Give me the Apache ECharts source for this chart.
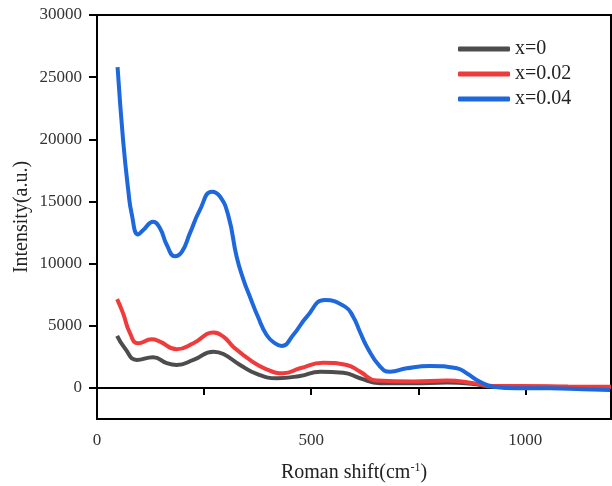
<!DOCTYPE html>
<html>
<head>
<meta charset="utf-8">
<script src="https://cdn.jsdelivr.net/npm/echarts@6/dist/echarts.min.js"></script>
<style>
  html, body { margin: 0; padding: 0; background: #fff; }
  #chart { width: 612px; height: 486px; }
</style>
</head>
<body>
<div id="chart"></div>
<script>
// Raman spectra
const seriesNames = ['x=0', 'x=0.02', 'x=0.04']

const shiftBlack = [47, 65, 93, 131, 163, 186, 225, 272, 295, 334, 373, 420, 474, 521, 575, 614, 661, 739, 817, 879, 925, 988, 1100, 1200]
const intensityBlack = [4180, 3190, 2250, 2470, 1990, 1850, 2250, 2920, 2730, 1850, 1130, 780, 965, 1310, 1230, 780, 380, 380, 430, 320, 100, 100, 80, 60]

const shiftRed = [47, 61, 77, 96, 128, 147, 186, 225, 272, 295, 318, 357, 396, 435, 474, 528, 583, 614, 653, 739, 817, 879, 925, 988, 1100, 1200]
const intensityRed = [7150, 6000, 4400, 3590, 3910, 3720, 3110, 3590, 4450, 4125, 3320, 2250, 1500, 1180, 1580, 2030, 1850, 1310, 590, 510, 590, 380, 160, 160, 120, 100]

const shiftBlue = [48, 61, 73, 81, 96, 108, 131, 147, 163, 182, 198, 217, 240, 268, 287, 307, 326, 342, 357, 376, 396, 415, 431, 458, 490, 532, 579, 598, 614, 630, 661, 684, 723, 777, 840, 863, 894, 925, 980, 1058, 1135, 1198]
const intensityBlue = [25800, 19900, 15900, 14000, 12350, 12700, 13370, 12840, 11500, 10600, 10950, 12450, 14300, 15780, 15400, 13800, 10550, 8700, 7340, 5700, 4260, 3600, 3380, 4260, 5730, 7075, 6540, 5730, 4500, 3320, 1710, 1310, 1580, 1770, 1580, 1180, 500, 100, -30, -30, -100, -160]

const yTicks = [0, 5000, 10000, 15000, 20000, 25000, 30000]
const xTickLabels = [0, 500, 1000]

const colors = ['#4d4d4d', '#ef3b3b', '#1c68dc']
const fontFamily = "'Liberation Serif', 'Times New Roman', serif"

function pairs(xs, ys) {
    return xs.map((x, i) => [x, ys[i]])
}

const chart = echarts.init(document.getElementById('chart'))

const option = {
    animation: false,
    backgroundColor: '#fff',
    color: colors,
    grid: {
        left: 97, right: 1, top: 15, bottom: 67,
        outerBoundsMode: 'none',
        containLabel: false,
        show: true,
        borderColor: '#000',
        borderWidth: 2
    },
    legend: {
        orient: 'vertical',
        left: 453,
        top: 34,
        itemWidth: 52,
        itemHeight: 5,
        itemGap: 5,
        icon: 'roundRect',
        textStyle: { fontFamily: fontFamily, fontSize: 20, color: '#222' },
        data: seriesNames
    },
    xAxis: {
        type: 'value',
        min: 0,
        max: 1200,
        interval: 250,
        name: '{a|Roman shift(cm}{s|-1}{a|)}',
        nameLocation: 'middle',
        nameGap: 43,
        nameTextStyle: {
            rich: {
                a: { fontFamily: fontFamily, fontSize: 20, color: '#222' },
                s: { fontFamily: fontFamily, fontSize: 12, color: '#222', verticalAlign: 'top', padding: [0, 0, 10, 0] }
            }
        },
        axisLine: { lineStyle: { color: '#000', width: 2 } },
        axisTick: { inside: false, length: 7, lineStyle: { color: '#000', width: 2 } },
        axisLabel: {
            margin: 13,
            customValues: xTickLabels,
            formatter: v => String(v),
            fontFamily: fontFamily, fontSize: 17, color: '#333'
        },
        splitLine: { show: false }
    },
    yAxis: {
        type: 'value',
        min: -2500,
        max: 30000,
        name: 'Intensity(a.u.)',
        nameLocation: 'middle',
        nameGap: 65,
        nameMoveOverlap: false,
        nameTextStyle: { fontFamily: fontFamily, fontSize: 20, color: '#222' },
        axisLine: { lineStyle: { color: '#000', width: 2 } },
        axisTick: { inside: false, length: 8, customValues: yTicks, lineStyle: { color: '#000', width: 2 } },
        axisLabel: {
            margin: 15,
            customValues: yTicks,
            formatter: v => String(v),
            fontFamily: fontFamily, fontSize: 17, color: '#333'
        },
        splitLine: { show: false }
    },
    series: [
        { name: seriesNames[0], type: 'line', data: pairs(shiftBlack, intensityBlack) },
        { name: seriesNames[1], type: 'line', data: pairs(shiftRed, intensityRed) },
        { name: seriesNames[2], type: 'line', data: pairs(shiftBlue, intensityBlue) }
    ].map(s => Object.assign(s, {
        smooth: 0.5,
        showSymbol: false,
        lineStyle: { width: 4 }
    }))
}

chart.setOption(option)
</script>
</body>
</html>
